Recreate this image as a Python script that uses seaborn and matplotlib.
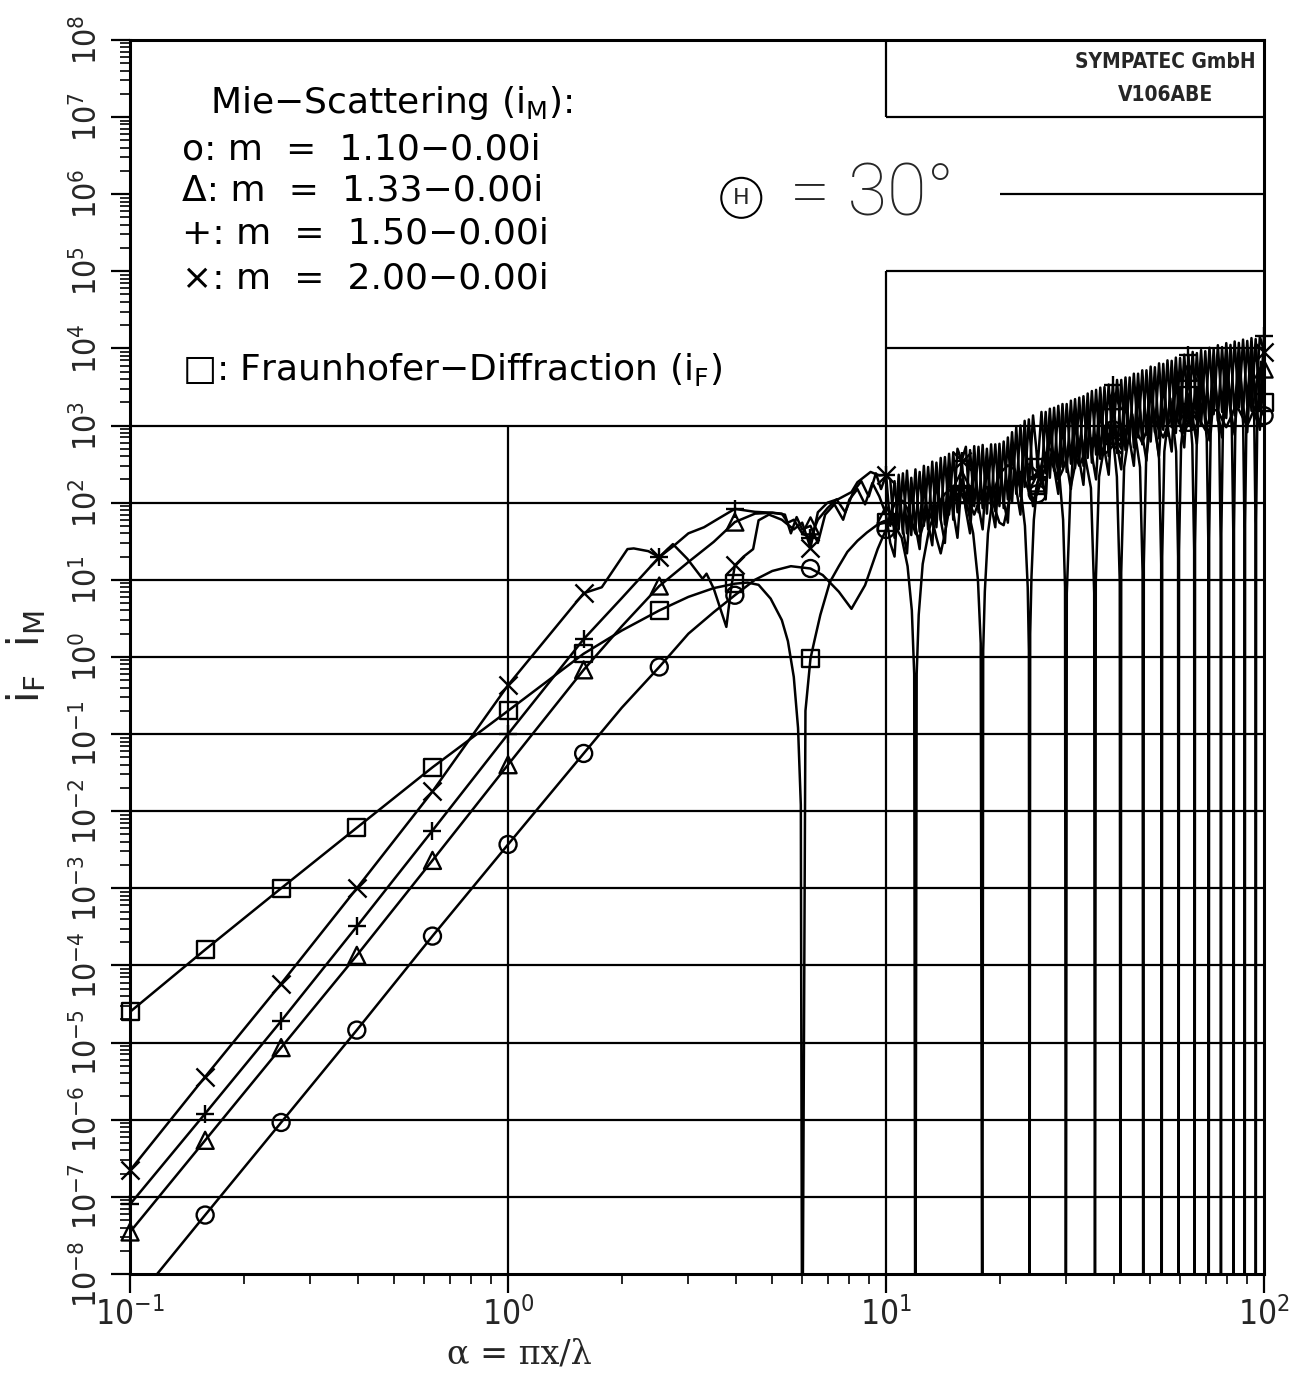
import matplotlib
matplotlib.use("Agg")
import matplotlib.pyplot as plt
import seaborn as sns
from matplotlib.ticker import LogLocator, NullFormatter

# --- data --------------------------------------------------------------------
# size parameter alpha where the symbols sit (every 0.2 decade)
MARK_ALPHA = [0.1, 0.158, 0.251, 0.398, 0.631, 1.0, 1.585, 2.512, 3.981, 6.31,
              10.0, 15.85, 25.12, 39.81, 63.1, 100.0]

MARK_M110 = [float("nan"), 5.8e-8, 9.2e-7, 1.45e-5, 2.4e-4, 3.7e-3, 5.6e-2, 0.74, 6.3, 14,
             45, 130, 130, 880, 1100, 1340]
MARK_M133 = [3.5e-8, 5.4e-7, 8.6e-6, 1.35e-4, 2.3e-3, 0.04, 0.68, 8.3, 56, 50,
             70, 200, 180, 2100, 4900, 5400]
MARK_M150 = [8e-8, 1.2e-6, 1.9e-5, 3.2e-4, 5.6e-3, 0.1, 1.7, 19.7, 83, 35,
             230, 350, 370, 3400, 8100, 14500]
MARK_M200 = [2.2e-7, 3.6e-6, 5.8e-5, 1e-3, 1.8e-2, 0.43, 6.7, 19.7, 15.4, 26,
             230, 350, 250, 560, 1100, 9000]
MARK_FRAUN = [2.5e-5, 1.6e-4, 1e-3, 6.1e-3, 3.7e-2, 0.2, 1.1, 4.0, 8.9, 0.95,
              56, 128, 169, 735, 2440, 1980]

# Mie curves below alpha = 10
M110_LO_X = [0.1, 0.158, 0.251, 0.398, 0.631, 1.0, 1.585, 2.0, 2.512, 3.0, 3.5, 3.981,
             4.5, 5.0, 5.6, 6.31, 6.8, 7.5, 8.1, 8.8, 9.5]
M110_LO_Y = [3.7e-9, 5.8e-8, 9.2e-7, 1.45e-5, 2.4e-4, 3.7e-3, 5.6e-2, 0.22, 0.74, 2.0, 3.8, 6.3,
             10, 13, 15, 14, 11.5, 7, 4.2, 8.5, 25]
M133_LO_X = [0.1, 0.158, 0.251, 0.398, 0.631, 1.0, 1.585, 2.0, 2.512, 3.0, 3.5, 3.981,
             4.5, 5.0, 5.4, 5.6, 5.8, 6.0, 6.31, 6.6, 6.9, 7.3, 7.7, 8.0, 8.4, 8.8, 9.2, 9.6]
M133_LO_Y = [3.5e-8, 5.4e-7, 8.6e-6, 1.35e-4, 2.3e-3, 0.04, 0.68, 2.5, 8.3, 17, 31, 56,
             72, 74, 70, 40, 65, 45, 50, 30, 70, 95, 60, 110, 150, 95, 180, 120]
M150_LO_X = [0.1, 0.158, 0.251, 0.398, 0.631, 1.0, 1.585, 2.0, 2.512, 2.73, 3.0, 3.3, 3.6,
             3.981, 4.5, 5.0, 5.3, 5.5, 5.7, 6.0, 6.31, 6.6, 7.0, 7.4, 7.8, 8.2, 8.6, 9.0, 9.4, 9.7]
M150_LO_Y = [8e-8, 1.2e-6, 1.9e-5, 3.2e-4, 5.6e-3, 0.1, 1.7, 5.8, 19.7, 27, 40, 48, 62,
             83, 76, 74, 72, 55, 60, 40, 35, 60, 85, 110, 75, 140, 190, 120, 240, 150]
M200_LO_X = [0.1, 0.158, 0.251, 0.398, 0.631, 1.0, 1.585, 1.77, 2.07, 2.15, 2.35, 2.512,
             2.73, 2.98, 3.27, 3.35, 3.5, 3.78, 3.89, 3.981, 4.2, 4.45, 4.6, 4.9, 5.3, 5.7,
             6.0, 6.31, 6.6, 7.0, 7.5, 8.1, 8.4, 9.1, 9.6]
M200_LO_Y = [2.2e-7, 3.6e-6, 5.8e-5, 1e-3, 1.8e-2, 0.43, 6.7, 8.0, 25, 25.5, 23.5, 19.7,
             29, 18.7, 10.3, 12, 7.7, 2.45, 7.7, 15.4, 20, 25, 59, 70, 60, 45,
             55, 26, 75, 100, 112, 137, 184, 250, 225]

# Mie curves from alpha = 10 to 100 (dense ripple region)
ALPHA_HI = [10.0, 10.26, 10.53, 10.8, 11.08, 11.36, 11.66, 11.96, 12.27, 12.59,
            12.92, 13.25, 13.59, 13.95, 14.31, 14.68, 15.06, 15.45, 15.85, 16.26,
            16.68, 17.11, 17.56, 18.01, 18.48, 18.96, 19.45, 19.95, 20.47, 21.0,
            21.54, 22.1, 22.67, 23.26, 23.86, 24.48, 25.12, 25.77, 26.44, 27.12,
            27.83, 28.55, 29.29, 30.05, 30.83, 31.62, 32.44, 33.28, 34.15, 35.03,
            35.94, 36.87, 37.83, 38.81, 39.81, 40.84, 41.9, 42.99, 44.1, 45.24,
            46.42, 47.62, 48.85, 50.12, 51.42, 52.75, 54.12, 55.52, 56.96, 58.43,
            59.95, 61.5, 63.1, 64.73, 66.41, 68.13, 69.9, 71.71, 73.56, 75.47,
            77.43, 79.43, 81.49, 83.6, 85.77, 87.99, 90.27, 92.61, 95.01, 97.47,
            100.0]
M110_HI = [45, 70, 95, 110, 105, 85, 60, 40, 35, 55,
           80, 60, 35, 22, 40, 80, 115, 130, 130, 120,
           95, 70, 100, 140, 160, 120, 80, 55, 51, 90,
           150, 220, 250, 200, 140, 110, 130, 200, 300, 360,
           280, 200, 260, 380, 480, 420, 300, 400, 560, 680,
           520, 400, 560, 760, 880, 640, 500, 720, 950, 1050,
           760, 600, 850, 1150, 1200, 880, 700, 980, 1300, 1350,
           1000, 800, 1100, 1500, 1450, 1100, 880, 1200, 1600, 1550,
           1200, 950, 1250, 1700, 1600, 1250, 1000, 1350, 1800, 1700,
           1340]
M133_HI = [70, 30, 20, 150, 45, 22, 160, 50, 25, 180,
           55, 28, 210, 60, 30, 250, 75, 35, 200, 80,
           40, 310, 90, 45, 320, 95, 48, 330, 105, 55,
           480, 150, 70, 660, 200, 90, 180, 250, 110, 930,
           280, 130, 1060, 320, 150, 1240, 360, 170, 1480, 420,
           200, 1760, 480, 230, 2100, 560, 270, 2400, 640, 300,
           2800, 760, 350, 3300, 880, 400, 3800, 1000, 460, 4300,
           1100, 520, 4900, 1250, 580, 5400, 1350, 640, 6000, 1500,
           700, 6600, 1650, 760, 7100, 1800, 820, 7700, 1950, 880,
           5400]
M150_HI = [230, 200, 35, 230, 40, 260, 38, 270, 42, 300,
           45, 340, 48, 380, 52, 430, 60, 500, 350, 530,
           70, 540, 75, 560, 72, 570, 78, 580, 85, 700,
           100, 950, 120, 1150, 150, 1350, 370, 200, 1500, 210,
           1700, 230, 1900, 250, 2100, 280, 2300, 300, 2600, 330,
           2900, 370, 3150, 400, 3400, 440, 3900, 480, 4200, 520,
           4700, 570, 5200, 620, 5700, 680, 6300, 740, 6900, 800,
           7500, 870, 8100, 940, 8700, 1000, 9200, 1080, 9800, 1150,
           10400, 1250, 11100, 1350, 11800, 1450, 12500, 1550, 13200, 1650,
           14500]
M200_HI = [230, 50, 190, 45, 240, 40, 210, 45, 250, 50,
           290, 55, 330, 60, 390, 70, 450, 75, 350, 85,
           480, 90, 530, 85, 500, 95, 570, 90, 620, 110,
           820, 130, 1000, 160, 1200, 200, 250, 1500, 240, 1650,
           260, 1800, 290, 1900, 320, 2200, 350, 2400, 380, 2800,
           420, 3100, 460, 3400, 560, 3900, 600, 4200, 650, 4700,
           700, 5200, 760, 5800, 820, 6400, 880, 7000, 950, 7600,
           1000, 8300, 1100, 9000, 1200, 9500, 1300, 10200, 1400, 11000,
           1500, 11700, 1600, 12300, 1700, 13000, 1800, 13600, 1900, 14300,
           9000]

# Fraunhofer diffraction, one row per lobe between the zeros
FRAUN_X = [0.1, 0.158, 0.251, 0.398, 0.631, 1.0, 1.585, 2.0, 2.512, 3.0, 3.5, 3.981,
           4.3, 4.6, 4.95, 5.3, 5.5, 5.7, 5.85, 5.95, 6.0,
           6.12, 6.31, 6.46, 6.7, 7.1, 7.5, 7.9, 8.4, 8.9, 9.5, 10.0, 10.5, 11.0, 11.4, 11.7, 11.87, 11.95,
           12.05, 12.2, 12.5, 13.0, 13.6, 14.3, 15.0, 15.4, 15.85, 16.4, 17.0, 17.5, 17.8, 17.97,
           18.07, 18.25, 18.6, 19.2, 20.0, 21.0, 21.9, 22.7, 23.3, 23.7, 23.87, 23.96,
           24.06, 24.25, 24.6, 25.12, 26.0, 27.0, 28.0, 28.8, 29.4, 29.75, 29.9,
           30.07, 30.77, 32.8, 34.83, 35.53, 35.7,
           35.88, 36.6, 38.7, 39.81, 40.8, 41.52, 41.7,
           41.89, 42.63, 44.8, 46.97, 47.71, 47.9,
           48.07, 48.76, 50.75, 52.75, 53.43, 53.6,
           53.77, 54.47, 56.5, 58.53, 59.23, 59.4,
           59.58, 60.32, 62.45, 63.1, 64.59, 65.32, 65.5,
           65.68, 66.39, 68.45, 70.52, 71.22, 71.4,
           71.57, 72.23, 74.15, 76.08, 76.74, 76.9,
           77.09, 77.83, 80.0, 82.17, 82.91, 83.1,
           83.27, 83.97, 86.0, 88.03, 88.73, 88.9,
           89.09, 89.83, 92.0, 94.17, 94.91, 95.1,
           95.28, 96.0, 98.1, 100.0, 100.92, 101.1]
FRAUN_Y = [2.5e-5, 1.6e-4, 1e-3, 6.1e-3, 3.7e-2, 0.2, 1.1, 2.2, 4.0, 6.0, 7.8, 8.9,
           9.2, 8.6, 5.7, 3.0, 1.6, 0.55, 0.12, 0.012, 1e-10,
           0.2, 0.95, 1.6, 3.5, 9.3, 15, 23, 32, 41, 52, 56, 52, 35, 15, 4, 0.6, 1e-10,
           0.6, 3.5, 16, 45, 90, 130, 155, 150, 128, 90, 40, 10, 1.5, 1e-10,
           1.2, 7, 40, 130, 240, 305, 270, 150, 50, 8, 1.2, 1e-10,
           2, 11, 60, 169, 380, 505, 420, 200, 60, 8, 1e-10,
           6.7, 155, 750, 155, 6.7, 1e-10,
           9.3, 216, 1050, 735, 216, 9.3, 1e-10,
           12.5, 288, 1400, 288, 12.5, 1e-10,
           16, 371, 1800, 371, 16, 1e-10,
           20, 461, 2240, 461, 20, 1e-10,
           24, 562, 2730, 2440, 562, 24, 1e-10,
           29, 676, 3280, 676, 29, 1e-10,
           34, 793, 3850, 793, 34, 1e-10,
           40, 923, 4480, 923, 40, 1e-10,
           46, 1067, 5180, 1067, 46, 1e-10,
           53, 1220, 5920, 1220, 53, 1e-10,
           60, 1380, 6700, 1980, 60, 1e-10]

FULL_GRID_Y = [1e-7, 1e-6, 1e-5, 1e-4, 1e-3, 1e-2, 1e-1, 1e0, 1e1, 1e2, 1e3]
Y_TICKS = [1e-8, 1e-7, 1e-6, 1e-5, 1e-4, 1e-3, 1e-2, 1e-1, 1e0,
           1e1, 1e2, 1e3, 1e4, 1e5, 1e6, 1e7, 1e8]
X_TICKS = [0.1, 1, 10, 100]

# --- plot ---------------------------------------------------------------------
sns.set_style("ticks")
plt.rcParams["font.family"] = ["DejaVu Sans"]
plt.rcParams["mathtext.default"] = "regular"

fig = plt.figure(figsize=(13.11, 13.75), dpi=100)
ax = fig.add_axes([0.0992, 0.0735, 0.865, 0.8975])
ax.set_xscale("log")
ax.set_yscale("log")
ax.set_xlim(0.1, 100)
ax.set_ylim(1e-8, 1e8)

curves = [
    (M110_LO_X + ALPHA_HI, M110_LO_Y + M110_HI),
    (M133_LO_X + ALPHA_HI, M133_LO_Y + M133_HI),
    (M150_LO_X + ALPHA_HI, M150_LO_Y + M150_HI),
    (M200_LO_X + ALPHA_HI, M200_LO_Y + M200_HI),
    (FRAUN_X, FRAUN_Y),
]
for xs, ys in curves:
    sns.lineplot(x=xs, y=ys, ax=ax, color="black", linewidth=1.8,
                 estimator=None, sort=False)

open_marks = [(MARK_M110, "o"), (MARK_M133, "^"), (MARK_FRAUN, "s")]
for vals, mk in open_marks:
    sns.scatterplot(x=MARK_ALPHA, y=vals, ax=ax, marker=mk, s=150,
                    facecolor="none", edgecolor="black", linewidth=1.7,
                    clip_on=False, zorder=4)
for vals, mk in [(MARK_M150, "+"), (MARK_M200, "x")]:
    sns.scatterplot(x=MARK_ALPHA, y=vals, ax=ax, marker=mk, s=170,
                    color="black", linewidth=1.7, clip_on=False, zorder=4)

# the grid of the original plot sheet
ax.hlines(FULL_GRID_Y, 0.1, 100, color="black", lw=1.6, zorder=1)
ax.hlines([1e4, 1e5, 1e7], 10, 100, color="black", lw=1.6, zorder=1)
ax.hlines(1e6, 20, 100, color="black", lw=1.6, zorder=1)
ax.vlines(1, 1e-8, 1e3, color="black", lw=1.6, zorder=1)
ax.vlines(10, 1e-8, 1e5, color="black", lw=1.6, zorder=1)
ax.vlines(10, 1e7, 1e8, color="black", lw=1.6, zorder=1)

for side in ax.spines.values():
    side.set_linewidth(2.2)
    side.set_color("black")

ax.set_xticks(X_TICKS)
ax.set_yticks(Y_TICKS)
ax.xaxis.set_minor_locator(LogLocator(base=10, subs=range(2, 10), numticks=100))
ax.yaxis.set_minor_locator(LogLocator(base=10, subs=range(2, 10), numticks=100))
ax.xaxis.set_minor_formatter(NullFormatter())
ax.yaxis.set_minor_formatter(NullFormatter())
ax.tick_params(which="major", direction="out", length=14, width=1.6,
               color="black", pad=3)
ax.tick_params(which="minor", direction="out", length=7, width=1.2, color="black")
ax.tick_params(axis="x", labelsize=24)
ax.tick_params(axis="y", labelsize=23, labelrotation=90, pad=5)
for lbl in ax.get_xticklabels() + ax.get_yticklabels():
    lbl.set_fontstretch("condensed")
for lbl in ax.get_yticklabels():
    lbl.set_verticalalignment("center")

ax.set_xlabel("α = πx/λ", fontsize=24, fontfamily="DejaVu Serif")
ax.xaxis.set_label_coords(0.343, -0.052)
ax.set_ylabel(r"$\mathregular{i_F\ \ i_M}$", fontsize=30)
ax.yaxis.set_label_coords(-0.072, 0.5)

# legend block written as text, like on the original sheet
tx = dict(transform=ax.transAxes, fontsize=26, va="center", ha="left", color="black")
ax.text(0.0705, 0.949, "Mie\u2212Scattering (" + r"$\mathregular{i_M}$" + "):", **tx)
ax.text(0.0459, 0.911, "o: m  =  1.10\u22120.00i", **tx)
ax.text(0.0459, 0.878, "\u0394: m  =  1.33\u22120.00i", **tx)
ax.text(0.0459, 0.843, "+: m  =  1.50\u22120.00i", **tx)
ax.text(0.0459, 0.807, "\u00d7: m  =  2.00\u22120.00i", **tx)
ax.text(0.0459, 0.733, "\u25a1: Fraunhofer\u2212Diffraction (" + r"$\mathregular{i_F}$" + ")", **tx)

ax.text(0.539, 0.872, "H", transform=ax.transAxes, fontsize=16, ha="center", va="center",
        bbox=dict(boxstyle="circle,pad=0.45", fc="white", ec="black", lw=1.5))
ax.text(0.582, 0.874, "= 30\u00b0", transform=ax.transAxes, fontsize=52,
        family=["Roboto", "DejaVu Sans"], fontweight="light", ha="left", va="center")

stamp = dict(transform=ax.transAxes, fontsize=15, ha="center", va="center",
             fontstretch="condensed", fontweight="bold")
ax.text(0.913, 0.982, "SYMPATEC GmbH", **stamp)
ax.text(0.913, 0.955, "V106ABE", **stamp)

fig.savefig("out.png", dpi=100, facecolor="white")
